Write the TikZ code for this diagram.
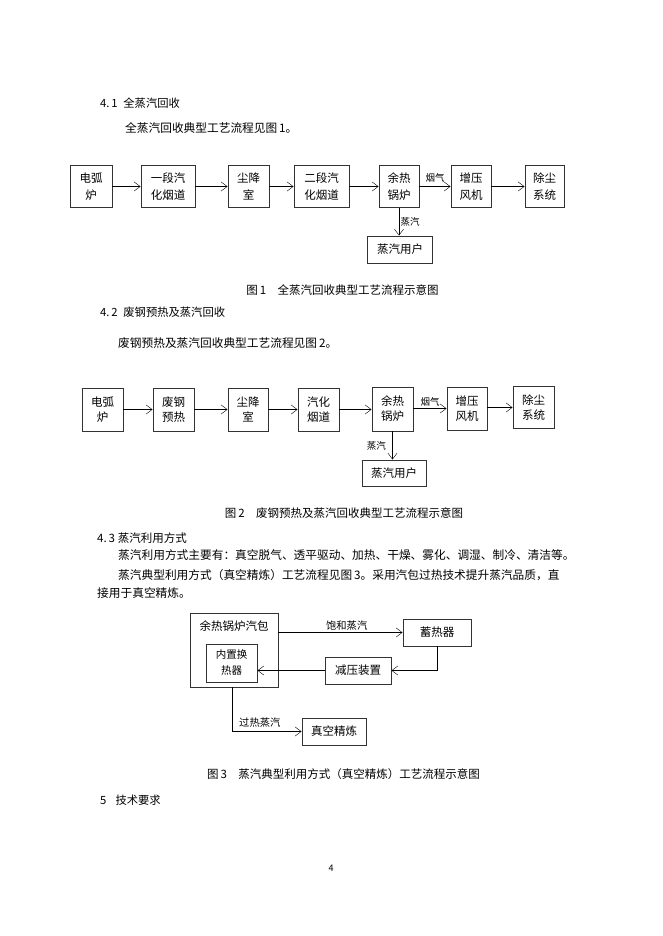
\documentclass[tikz,border=0pt]{standalone}
\usepackage{fontspec}
\setmainfont{Noto Sans CJK SC}
\usetikzlibrary{arrows.meta,positioning}

\begin{document}
\begin{tikzpicture}[
    x=1pt, y=-1pt,
    box/.style={draw=black!80, line width=0.9pt, align=center, inner sep=1pt,
                font=\fontsize{11.5}{16.5}\selectfont},
    blk/.style 2 args={box, minimum width=#1pt, minimum height=#2pt},
    lbl/.style={font=\fontsize{9.5}{11}\selectfont, inner sep=1.5pt},
    txt/.style={anchor=west, inner sep=0pt, font=\fontsize{11.7}{14}\selectfont},
    figcap/.style={inner sep=0pt, font=\fontsize{11.5}{14}\selectfont},
    >={Straight Barb[length=6pt,width=9pt]}]
  \fill[white] (0,0) rectangle (662,936);
  \useasboundingbox (0,0) rectangle (662,936);

  % 4.1
  \node[txt, font=\fontsize{11.3}{14}\selectfont] (h41) at (100,103) {4.\,1\hspace{0.5em}全蒸汽回收};
  \node[txt] (p41) at (125,128) {全蒸汽回收典型工艺流程见图\,1。};

  \node[blk={42}{42}] (arc1) at (91,186.5) {电弧\\炉};
  \node[blk={54}{42}] (ducta1) at (168,186.5) {一段汽\\化烟道};
  \node[blk={41}{42}] (settle1) at (248.5,186.5) {尘降\\室};
  \node[blk={55}{42}] (ductb1) at (321.5,186.5) {二段汽\\化烟道};
  \node[blk={40}{42}] (boiler1) at (399,186.5) {余热\\锅炉};
  \node[blk={40}{42}] (fan1) at (471,186.5) {增压\\风机};
  \node[blk={39}{42}] (dust1) at (544.5,186.5) {除尘\\系统};
  \node[blk={65}{27}] (user1) at (400,249.5) {蒸汽用户};
  \draw[->] (arc1) -- (ducta1);
  \draw[->] (ducta1) -- (settle1);
  \draw[->] (settle1) -- (ductb1);
  \draw[->] (ductb1) -- (boiler1);
  \draw[->] (boiler1) -- node[lbl, above=3pt] {烟气} (fan1);
  \draw[->] (fan1) -- (dust1);
  \draw[->] (boiler1.south) -- node[lbl, right] {蒸汽} (boiler1.south |- user1.north);

  \node[figcap] (cap1) at (342.5,290) {图\,1\quad 全蒸汽回收典型工艺流程示意图};

  % 4.2
  \node[txt, font=\fontsize{11.3}{14}\selectfont] (h42) at (100,312) {4.\,2\hspace{0.5em}废钢预热及蒸汽回收};
  \node[txt] (p42) at (118,343) {废钢预热及蒸汽回收典型工艺流程见图\,2。};

  \begin{scope}[box/.append style={font=\fontsize{11.5}{15}\selectfont}]
  \node[blk={41}{43}] (arc2) at (102.5,409.5) {电弧\\炉};
  \node[blk={41}{43}] (pre2) at (173.5,409.5) {废钢\\预热};
  \node[blk={40}{43}] (settle2) at (248,409.5) {尘降\\室};
  \node[blk={41}{43}] (duct2) at (318.5,409.5) {汽化\\烟道};
  \node[blk={41}{44}] (boiler2) at (392.5,409) {余热\\锅炉};
  \node[blk={40}{43}] (fan2) at (467,408.5) {增压\\风机};
  \node[blk={41}{42}] (dust2) at (533.5,407.5) {除尘\\系统};
  \end{scope}
  \node[blk={64}{26}] (user2) at (394,473) {蒸汽用户};
  \draw[->] (arc2) -- (pre2);
  \draw[->] (pre2) -- (settle2);
  \draw[->] (settle2) -- (duct2);
  \draw[->] (duct2) -- (duct2 -| boiler2.west);
  \draw[->] (boiler2.east |- fan2) -- node[lbl, above=1pt] {烟气} (fan2);
  \draw[->] (fan2.east |- dust2) -- (dust2);
  \draw[->] (boiler2.south) -- node[lbl, left=5pt] {蒸汽} (boiler2.south |- user2.north);

  \node[figcap] (cap2) at (344,513) {图\,2\quad 废钢预热及蒸汽回收典型工艺流程示意图};

  % 4.3
  \node[txt, font=\fontsize{11.5}{14}\selectfont] (h43) at (97,538) {4.\,3\hspace{0.25em}蒸汽利用方式};
  \node[txt] (p43a) at (118,555) {蒸汽利用方式主要有：真空脱气、透平驱动、加热、干燥、雾化、调湿、制冷、清洁等。};
  \node[txt] (p43b) at (118,575) {蒸汽典型利用方式（真空精炼）工艺流程见图\,3。采用汽包过热技术提升蒸汽品质，直};
  \node[txt] (p43c) at (97,593) {接用于真空精炼。};

  \node[blk={88}{74}, label={[font=\fontsize{11.5}{14}\selectfont, anchor=north, inner sep=0pt, yshift=-8pt]north:余热锅炉汽包}] (drum) at (234,650) {};
  \node[blk={51}{38}, font=\fontsize{10.5}{16}\selectfont] (hx) at (231.5,663) {内置换\\热器};
  \node[blk={68}{27}] (acc) at (437,632.5) {蓄热器};
  \node[blk={66}{27}] (valve) at (358,670.5) {减压装置};
  \node[blk={64}{27}] (vac) at (334,731.5) {真空精炼};
  \draw[->] (drum.east |- acc.west) -- node[lbl, above, pos=0.55, font=\fontsize{10.3}{12}\selectfont] {饱和蒸汽} (acc.west);
  \draw[->] (acc.south) |- (valve.east);
  \draw[->] (valve.west) -- (valve.west -| hx.east);
  \draw[->] ([xshift=-2pt]drum.south) |- node[lbl, above=2pt, pos=0.7, font=\fontsize{10.3}{12}\selectfont] {过热蒸汽} (vac.west);

  \node[figcap] (cap3) at (343.5,774) {图\,3\quad 蒸汽典型利用方式（真空精炼）工艺流程示意图};

  % 5
  \node[txt, font=\fontsize{11.3}{14}\selectfont] (h5) at (100,800) {5\hspace{0.8em}技术要求};
  \node[inner sep=0pt, font=\fontsize{9}{11}\selectfont] (page) at (331,868) {4};
\end{tikzpicture}
\end{document}
